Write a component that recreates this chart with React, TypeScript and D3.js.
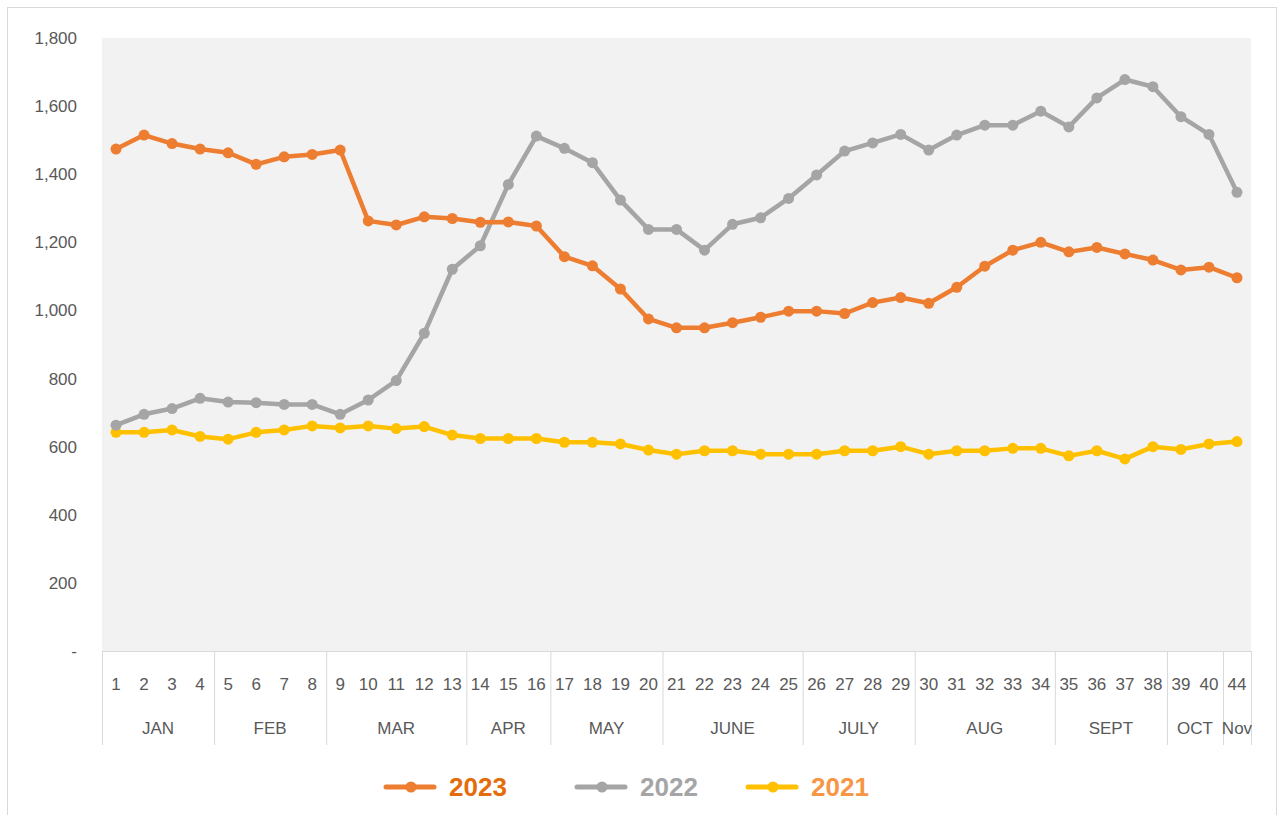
import * as d3 from 'd3';

const weeks = ['1','2','3','4','5','6','7','8','9','10','11','12','13','14','15','16','17','18','19','20','21','22','23','24','25','26','27','28','29','30','31','32','33','34','35','36','37','38','39','40','44'];
const months = [
  { name: 'JAN', from: 0, to: 4 },
  { name: 'FEB', from: 4, to: 8 },
  { name: 'MAR', from: 8, to: 13 },
  { name: 'APR', from: 13, to: 16 },
  { name: 'MAY', from: 16, to: 20 },
  { name: 'JUNE', from: 20, to: 25 },
  { name: 'JULY', from: 25, to: 29 },
  { name: 'AUG', from: 29, to: 34 },
  { name: 'SEPT', from: 34, to: 38 },
  { name: 'OCT', from: 38, to: 40 },
  { name: 'Nov', from: 40, to: 41 },
];

const y2023 = [1474, 1515, 1490, 1474, 1463, 1429, 1451, 1458, 1471, 1263, 1251, 1275, 1270, 1259, 1260, 1248, 1158, 1131, 1063, 975, 949, 949, 964, 980, 998, 998, 991, 1023, 1038, 1021, 1068, 1130, 1177, 1200, 1172, 1185, 1166, 1148, 1119, 1127, 1096];
const y2022 = [663, 695, 712, 742, 731, 729, 724, 724, 695, 737, 794, 933, 1121, 1190, 1370, 1512, 1476, 1434, 1324, 1238, 1238, 1177, 1253, 1272, 1329, 1398, 1468, 1492, 1517, 1471, 1515, 1544, 1544, 1585, 1539, 1624, 1678, 1657, 1569, 1517, 1347];
const y2021 = [642, 642, 649, 630, 622, 642, 649, 661, 655, 661, 653, 659, 634, 624, 624, 624, 613, 613, 608, 590, 578, 588, 588, 578, 578, 578, 588, 588, 600, 578, 588, 588, 595, 595, 573, 588, 564, 600, 592, 608, 615];
const yTicks = [0, 200, 400, 600, 800, 1000, 1200, 1400, 1600, 1800];

const series = [
  { name: '2023', values: y2023, color: '#ed7d31', text: '#e46c0a' },
  { name: '2022', values: y2022, color: '#a5a5a5', text: '#a5a5a5' },
  { name: '2021', values: y2021, color: '#ffc000', text: '#f79646' },
];

const W = 1278;
const H = 815;
const plot = { left: 102, right: 1251, top: 38, bottom: 651 };
const font = '"Liberation Sans", Arial, sans-serif';
const labelColor = '#595959';
const gridColor = '#d9d9d9';

export default function App() {
  const x = d3.scaleBand<number>().domain(d3.range(weeks.length)).range([plot.left, plot.right]);
  const cx = (i: number) => (x(i) ?? 0) + x.bandwidth() / 2;
  const y = d3.scaleLinear().domain([0, 1800]).range([plot.bottom, plot.top]);
  const line = d3.line<number>().x((_, i) => cx(i)).y(d => y(d));
  const edge = (i: number) => (i >= weeks.length ? plot.right : (x(i) ?? 0));

  const legendX = [386, 577, 748];

  return (
    <svg width={W} height={H} style={{ position: 'absolute', left: 0, top: 0, background: '#fff' }}>
      <rect x={7.5} y={7.5} width={1269} height={820} fill="#fff" stroke={gridColor} />
      <rect x={plot.left} y={plot.top} width={plot.right - plot.left} height={plot.bottom - plot.top} fill="#f2f2f2" />

      {/* y labels */}
      {yTicks.map(t => (
        <text key={t} x={77} y={y(t)} dy="0.35em" textAnchor="end" fontFamily={font} fontSize={17} fill={labelColor}>
          {t === 0 ? '-' : d3.format(',')(t)}
        </text>
      ))}

      {/* x axis */}
      <line x1={plot.left} x2={plot.right} y1={plot.bottom + 0.5} y2={plot.bottom + 0.5} stroke={gridColor} />
      {[...months.map(m => m.from), weeks.length].map(i => (
        <line key={i} x1={edge(i) + 0.5} x2={edge(i) + 0.5} y1={plot.bottom} y2={745} stroke={gridColor} />
      ))}
      {weeks.map((w, i) => (
        <text key={w} x={cx(i)} y={690} textAnchor="middle" fontFamily={font} fontSize={17} fill={labelColor}>{w}</text>
      ))}
      {months.map(m => (
        <text key={m.name} x={(edge(m.from) + edge(m.to)) / 2} y={734} textAnchor="middle" fontFamily={font} fontSize={17} fill={labelColor}>{m.name}</text>
      ))}

      {/* series */}
      {[...series].reverse().map(s => (
        <g key={s.name}>
          <path d={line(s.values) ?? ''} fill="none" stroke={s.color} strokeWidth={4.5} strokeLinejoin="round" />
          {s.values.map((v, i) => (
            <circle key={i} cx={cx(i)} cy={y(v)} r={5.5} fill={s.color} />
          ))}
        </g>
      ))}

      {/* legend */}
      {series.map((s, i) => (
        <g key={s.name} transform={`translate(${legendX[i]},787)`}>
          <line x1={0} x2={48} y1={0} y2={0} stroke={s.color} strokeWidth={5} strokeLinecap="round" />
          <circle cx={25} cy={0} r={5.5} fill={s.color} />
          <text x={63} y={0} dy="0.36em" fontFamily={font} fontSize={26} fontWeight="bold" fill={s.text}>{s.name}</text>
        </g>
      ))}
    </svg>
  );
}
